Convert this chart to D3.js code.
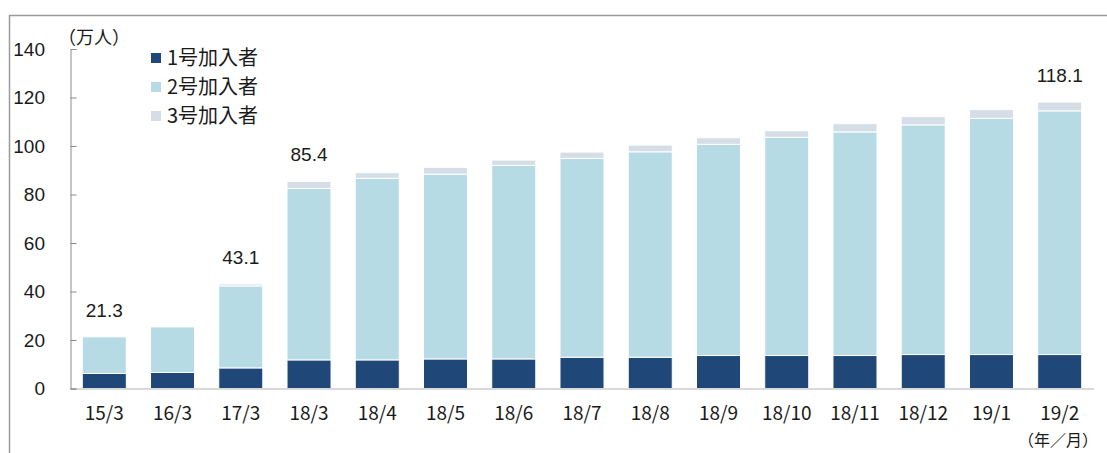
<!DOCTYPE html>
<html>
<head>
<meta charset="utf-8">
<script src="https://cdn.jsdelivr.net/npm/d3@7/dist/d3.min.js"></script>
<style>
  body { margin: 0; background: #fff; }
  svg text { fill: #1a1a1a; }
</style>
</head>
<body>
<div id="chart"></div>
<script>
// categories (年/月)
var months = ["15/3", "16/3", "17/3", "18/3", "18/4", "18/5", "18/6", "18/7",
              "18/8", "18/9", "18/10", "18/11", "18/12", "19/1", "19/2"];
// 万人
var type1 = [6.2, 6.6, 8.5, 11.8, 11.8, 12.2, 12.2, 12.9, 12.9, 13.6, 13.6, 13.6, 14.0, 14.0, 14.0];
var type2 = [15.1, 18.8, 33.8, 70.7, 74.9, 76.2, 79.8, 82.0, 84.7, 87.1, 90.0, 92.2, 94.7, 97.4, 100.5];
var type3 = [0, 0, 0.8, 2.9, 2.3, 2.8, 2.2, 2.6, 2.8, 2.7, 2.7, 3.4, 3.4, 3.6, 3.6];
var seriesNames = ["1号加入者", "2号加入者", "3号加入者"];
var seriesColors = ["#1f4778", "#b7dbe4", "#d5dde7"];
var yTicks = [0, 20, 40, 60, 80, 100, 120, 140];
// only some bars carry a total label
var totalLabels = {"15/3": "21.3", "17/3": "43.1", "18/3": "85.4", "19/2": "118.1"};

var W = 1107, H = 453;
var svg = d3.select("#chart").append("svg")
  .attr("width", W)
  .attr("height", H);

// outer frame (top + left only)
svg.append("path")
  .attr("d", "M9.5," + H + "V15.5H" + W)
  .attr("fill", "none")
  .attr("stroke", "#9a9a9a")
  .attr("stroke-width", 1.5);

var x = d3.scaleBand().domain(months).range([70, 1094]).paddingInner(0.355).paddingOuter(0.18);
var y = d3.scaleLinear().domain([0, 140]).range([388.5, 49]);

var rows = months.map(function(m, i) {
  return {month: m, "1号加入者": type1[i], "2号加入者": type2[i], "3号加入者": type3[i]};
});
var stack = d3.stack().keys(seriesNames)(rows);

var layer = svg.selectAll("g.layer")
  .data(stack)
  .enter()
  .append("g")
  .attr("class", "layer")
  .attr("fill", function(d, i) { return seriesColors[i]; });

layer.selectAll("rect")
  .data(function(d) { return d; })
  .enter()
  .append("rect")
  .attr("x", function(d) { return x(d.data.month); })
  .attr("width", x.bandwidth())
  .attr("y", function(d) { return y(d[1]); })
  .attr("height", function(d) { return Math.max(0, y(d[0]) - y(d[1])); })
  .attr("stroke", "#fff")
  .attr("stroke-width", 1);

// x axis baseline
svg.append("line")
  .attr("x1", 70).attr("x2", 1094)
  .attr("y1", y(0) + 0.5).attr("y2", y(0) + 0.5)
  .attr("stroke", "#d9d9d9")
  .attr("stroke-width", 2);

// y axis, ticks pointing inward
var yAxis = svg.append("g")
  .attr("transform", "translate(70.5,0)")
  .call(d3.axisRight(y).tickValues(yTicks).tickSize(6).tickFormat(""));
yAxis.select(".domain").attr("stroke", "#8c8c8c");
yAxis.selectAll(".tick line").attr("stroke", "#8c8c8c");

svg.selectAll("text.ylab")
  .data(yTicks)
  .enter()
  .append("text")
  .attr("class", "ylab")
  .attr("x", 45)
  .attr("y", function(d) { return y(d); })
  .attr("dy", "0.36em")
  .attr("text-anchor", "end")
  .style("font", "19px 'Liberation Sans', Arial, sans-serif")
  .text(function(d) { return d; });

svg.selectAll("text.xlab")
  .data(months)
  .enter()
  .append("text")
  .attr("class", "xlab")
  .attr("x", function(d) { return x(d) + x.bandwidth() / 2; })
  .attr("y", 420)
  .attr("text-anchor", "middle")
  .style("font", "19px 'Noto Sans CJK JP', sans-serif")
  .text(function(d) { return d; });

// total labels
svg.selectAll("text.total")
  .data(rows.filter(function(r) { return totalLabels[r.month]; }))
  .enter()
  .append("text")
  .attr("class", "total")
  .attr("x", function(d) { return x(d.month) + x.bandwidth() / 2; })
  .attr("y", function(d) {
    return y(d["1号加入者"] + d["2号加入者"] + d["3号加入者"]) - 20;
  })
  .attr("text-anchor", "middle")
  .style("font", "19px 'Liberation Sans', Arial, sans-serif")
  .text(function(d) { return totalLabels[d.month]; });

// unit labels
svg.append("text")
  .attr("x", 58).attr("y", 44)
  .style("font", "18px 'Noto Sans CJK JP', sans-serif")
  .text("（万人）");
svg.append("text")
  .attr("x", 1098).attr("y", 446)
  .attr("text-anchor", "end")
  .style("font", "16px 'Noto Sans CJK JP', sans-serif")
  .text("（年／月）");

// legend
var legend = svg.selectAll("g.legend")
  .data(seriesNames)
  .enter()
  .append("g")
  .attr("class", "legend")
  .attr("transform", function(d, i) { return "translate(151," + (58 + i * 29) + ")"; });
legend.append("rect")
  .attr("x", 0).attr("y", -5)
  .attr("width", 10).attr("height", 10)
  .attr("fill", function(d, i) { return seriesColors[i]; });
legend.append("text")
  .attr("x", 16)
  .attr("dy", "0.36em")
  .style("font", "20px 'Noto Sans CJK JP', sans-serif")
  .text(function(d) { return d; });
</script>
</body>
</html>
